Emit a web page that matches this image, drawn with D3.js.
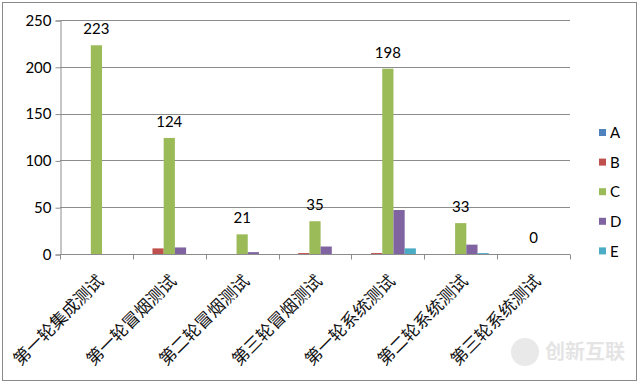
<!DOCTYPE html>
<html>
<head>
<meta charset="utf-8">
<script src="https://cdn.jsdelivr.net/npm/d3@7"></script>
<style>
  body { margin: 0; background: #fff; }
  svg { display: block; }
</style>
</head>
<body>
<div id="chart"></div>
<script>
// data
var categories = ['第一轮集成测试', '第一轮冒烟测试', '第二轮冒烟测试', '第三轮冒烟测试', '第一轮系统测试', '第二轮系统测试', '第三轮系统测试'];
var seriesNames = ['A', 'B', 'C', 'D', 'E'];
var seriesA = [0, 0, 0, 0, 0, 0, 0];
var seriesB = [0, 6, 0, 1, 1, 0, 0];
var seriesC = [223, 124, 21, 35, 198, 33, 0];
var seriesD = [0, 7, 2, 8, 47, 10, 0];
var seriesE = [0, 0, 0, 0, 6, 1, 0];
var yTicks = [0, 50, 100, 150, 200, 250];

var colors = ['#4F81BD', '#C0504D', '#9BBB59', '#8064A2', '#4BACC6'];
var seriesValues = [seriesA, seriesB, seriesC, seriesD, seriesE];

var width = 640, height = 383;
var plot = { left: 60, right: 570, top: 20, bottom: 254 };
var numFont = 'Lato, "Liberation Sans", sans-serif';
var cjkFont = '"Noto Sans CJK SC", sans-serif';

var svg = d3.select('#chart').append('svg')
    .attr('width', width)
    .attr('height', height);

// chart frame
svg.append('rect')
    .attr('x', 2.5).attr('y', 2.5)
    .attr('width', 634).attr('height', 378)
    .attr('fill', '#fff')
    .attr('stroke', '#8a8a8a')
    .attr('stroke-width', 1);

var x0 = d3.scaleBand()
    .domain(categories)
    .range([plot.left, plot.right]);

// gap width 150% like excel: 5 bars + 1.5 bar of gap per category
var barW = x0.bandwidth() / 6.5;
var x1 = d3.scaleBand()
    .domain(seriesNames)
    .range([barW * 0.75, barW * 5.75]);

var y = d3.scaleLinear()
    .domain([0, 250])
    .range([plot.bottom, plot.top]);

// gridlines
svg.append('g')
  .selectAll('line')
    .data(yTicks.slice(1))
  .enter().append('line')
    .attr('x1', plot.left)
    .attr('x2', plot.right)
    .attr('y1', function(d) { return Math.round(y(d)) + 0.5; })
    .attr('y2', function(d) { return Math.round(y(d)) + 0.5; })
    .attr('stroke', '#8c8c8c');

// y axis
var yAxis = svg.append('g')
    .attr('transform', 'translate(' + (plot.left + 0.5) + ',0.5)')
    .call(d3.axisLeft(y).tickValues(yTicks).tickSize(5).tickPadding(4));
yAxis.select('.domain').attr('stroke', '#8c8c8c');
yAxis.selectAll('.tick line').attr('stroke', '#8c8c8c');
yAxis.selectAll('.tick text')
    .attr('font-family', numFont)
    .attr('font-size', '15px')
    .attr('fill', '#000');

// bars
var groups = svg.append('g')
  .selectAll('g')
    .data(seriesValues)
  .enter().append('g')
    .attr('fill', function(d, i) { return colors[i]; });

groups.selectAll('rect')
    .data(function(d, i) {
      return d.map(function(v, j) { return { s: seriesNames[i], c: categories[j], v: v }; });
    })
  .enter().append('rect')
    .attr('x', function(d) { return x0(d.c) + x1(d.s); })
    .attr('width', barW)
    .attr('y', function(d) { return y(d.v); })
    .attr('height', function(d) { return y(0) - y(d.v); });

// x axis
var xAxis = svg.append('g')
    .attr('transform', 'translate(0,' + (plot.bottom + 0.5) + ')');
xAxis.append('line')
    .attr('x1', plot.left).attr('x2', plot.right)
    .attr('stroke', '#8c8c8c');
xAxis.selectAll('.tk')
    .data(d3.range(categories.length + 1))
  .enter().append('line')
    .attr('x1', function(i) { return Math.round(plot.left + i * x0.step()) + 0.5; })
    .attr('x2', function(i) { return Math.round(plot.left + i * x0.step()) + 0.5; })
    .attr('y1', 0).attr('y2', 5)
    .attr('stroke', '#8c8c8c');

// rotated category labels
svg.append('g')
  .selectAll('text')
    .data(categories)
  .enter().append('text')
    .attr('transform', function(d) {
      return 'translate(' + (x0(d) + x0.bandwidth() / 2 + 3) + ',277) rotate(-45)';
    })
    .attr('text-anchor', 'end')
    .attr('dominant-baseline', 'central')
    .attr('font-family', cjkFont)
    .attr('font-size', '17px')
    .attr('fill', '#111')
    .text(function(d) { return d; });

// data labels on series C
svg.append('g')
  .selectAll('text')
    .data(seriesC)
  .enter().append('text')
    .attr('x', function(d, j) { return x0(categories[j]) + x1('C') + barW / 2; })
    .attr('y', function(d) { return y(d) - 11; })
    .attr('text-anchor', 'middle')
    .attr('font-family', numFont)
    .attr('font-size', '15px')
    .attr('fill', '#000')
    .text(function(d) { return d; });

// legend
var legend = svg.append('g')
  .selectAll('g')
    .data(seriesNames)
  .enter().append('g')
    .attr('transform', function(d, i) { return 'translate(599,' + (129 + i * 29.6) + ')'; });
legend.append('rect')
    .attr('width', 7).attr('height', 7)
    .attr('fill', function(d, i) { return colors[i]; });
legend.append('text')
    .attr('x', 11).attr('y', 4)
    .attr('dy', '0.35em')
    .attr('font-family', numFont)
    .attr('font-size', '15px')
    .attr('fill', '#000')
    .text(function(d) { return d; });

// watermark
var wm = svg.append('g').attr('transform', 'translate(525,352)').attr('opacity', 0.55);
wm.append('circle').attr('r', 14).attr('fill', '#d8d8d8');
wm.append('text')
    .attr('x', 20).attr('dy', '0.35em')
    .attr('font-family', cjkFont)
    .attr('font-size', '20px')
    .attr('font-weight', 'bold')
    .attr('fill', '#cfcfcf')
    .text('创新互联');
</script>
</body>
</html>
